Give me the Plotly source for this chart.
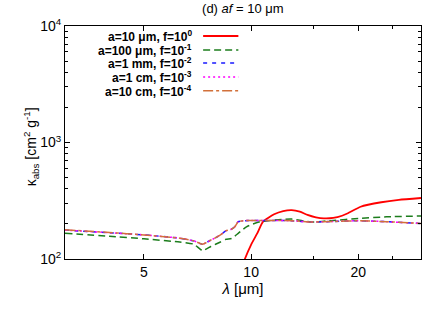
import plotly.graph_objects as go

# ---- data ----
lam_small = [3.0, 4.0, 5.0, 6.3, 6.9, 7.3, 7.7, 8.2, 8.5, 8.8, 9.0, 9.2, 9.5, 10.5, 12.0, 13.0, 14.7, 17.0, 20.0, 24.0, 30.0]
k_blue    = [177, 168, 161, 151, 143, 134, 145, 161, 175, 180, 189, 209, 213, 214, 214, 213, 208, 210, 213, 209, 202]
k_magenta = [177, 168, 161, 151, 143, 134, 145, 161, 175, 180, 189, 209, 213, 214, 214, 213, 208, 210, 213, 209, 202]
k_orange  = [178, 169, 161, 151, 143, 134, 145, 161, 175, 180, 189, 209, 213, 214, 214, 213, 208, 210, 213, 209, 202]

lam_green = [3.0, 4.0, 5.0, 6.3, 6.9, 7.3, 7.7, 8.2, 8.5, 8.8, 9.2, 9.7, 10.6, 12.3, 13.0, 14.7, 17.0, 20.0, 24.0, 30.0]
k_green   = [166, 157, 149, 140, 134, 118, 128, 140, 148, 150, 166, 189, 209, 219, 220, 208, 214, 223, 230, 234]

lam_red = [9.2, 9.6, 10.0, 10.4, 10.8, 11.6, 12.3, 13.0, 13.7, 14.4, 15.2, 16.0, 17.0, 18.0, 18.7, 20.3, 23.2, 26.0, 30.0]
k_red   = [70, 100, 133, 166, 209, 242, 258, 263, 255, 239, 228, 223, 225, 235, 247, 281, 307, 322, 334]

labels = [
    "a=10 μm, f=10<sup>0</sup>",
    "a=100 μm, f=10<sup>-1</sup>",
    "a=1 mm, f=10<sup>-2</sup>",
    "a=1 cm, f=10<sup>-3</sup>",
    "a=10 cm, f=10<sup>-4</sup>",
]
colors = ["#ff0000", "#1c7d1c", "#1a1aff", "#ff00ff", "#d2703a"]
dashes = ["solid", "7px,4px", "4px,5px", "2px,3px", "10px,3px,3px,3px"]

x_tickvals = [5, 10, 20]
x_ticktext = ["5", "10", "20"]
x_minor = [15, 25]
y_tickvals = [100, 1000, 10000]
y_ticktext = ["10<sup>2</sup>", "10<sup>3</sup>", "10<sup>4</sup>"]
y_minor = [200, 300, 400, 500, 600, 700, 800, 900, 2000, 3000, 4000, 5000, 6000, 7000, 8000, 9000]

series = [
    (lam_red, k_red),
    (lam_green, k_green),
    (lam_small, k_blue),
    (lam_small, k_magenta),
    (lam_small, k_orange),
]

fig = go.Figure()
for i, (xs, ys) in enumerate(series):
    fig.add_trace(go.Scatter(
        x=xs, y=ys, mode="lines", name=labels[i],
        line=dict(color=colors[i], dash=dashes[i], width=1.8 if i == 0 else 1.5,
                  shape="spline", smoothing=0.5),
        showlegend=False,
    ))

FONT = "Liberation Sans, Arial, sans-serif"

# legend drawn as right-aligned text followed by a line sample
leg_y = [0.957, 0.897, 0.841, 0.781, 0.722]
for i in range(5):
    fig.add_annotation(x=0.362, y=leg_y[i], xref="paper", yref="paper",
                       text="<b>" + labels[i] + "</b>", showarrow=False,
                       xanchor="right", yanchor="middle",
                       font=dict(family=FONT, size=12, color="black"))
    fig.add_shape(type="line", xref="paper", yref="paper",
                  x0=0.388, x1=0.487, y0=leg_y[i], y1=leg_y[i],
                  line=dict(color=colors[i], dash=dashes[i], width=1.8 if i == 0 else 1.5))

# y-axis title as a rotated annotation
fig.add_annotation(x=-0.095, y=0.48, xref="paper", yref="paper",
                   text="κ<sub>abs</sub> [cm<sup>2</sup> g<sup>-1</sup>]", showarrow=False,
                   textangle=-90, xanchor="center", yanchor="middle",
                   font=dict(family=FONT, size=14, color="black"))

axis_common = dict(
    showline=True, linecolor="black", linewidth=1, mirror="allticks",
    ticks="inside", ticklen=5, tickcolor="black", tickwidth=1,
    showgrid=False, zeroline=False,
    tickfont=dict(family=FONT, size=14, color="black"),
)

fig.update_xaxes(type="log", range=[0.4771, 1.4771],
                 tickmode="array", tickvals=x_tickvals, ticktext=x_ticktext,
                 minor=dict(tickmode="array", tickvals=x_minor, ticks="inside", ticklen=3,
                            tickcolor="black", showgrid=False),
                 title=dict(text="<i>λ</i> [μm]", font=dict(family=FONT, size=15, color="black"),
                            standoff=2),
                 **axis_common)
fig.update_yaxes(type="log", range=[2, 4],
                 tickmode="array", tickvals=y_tickvals, ticktext=y_ticktext,
                 minor=dict(tickmode="array", tickvals=y_minor, ticks="inside", ticklen=3,
                            tickcolor="black", showgrid=False),
                 **axis_common)

fig.update_layout(
    width=436, height=327,
    margin=dict(l=65, r=15, t=26, b=68),
    paper_bgcolor="white", plot_bgcolor="white",
    title=dict(text="(d) <i>af</i> = 10 μm", x=0.557, xanchor="center", y=0.975, yanchor="middle",
               font=dict(family=FONT, size=13, color="black")),
    font=dict(family=FONT, color="black"),
)

fig.write_html("out.html", config={"displayModeBar": False},
               post_script="document.body.style.margin='0px';")
